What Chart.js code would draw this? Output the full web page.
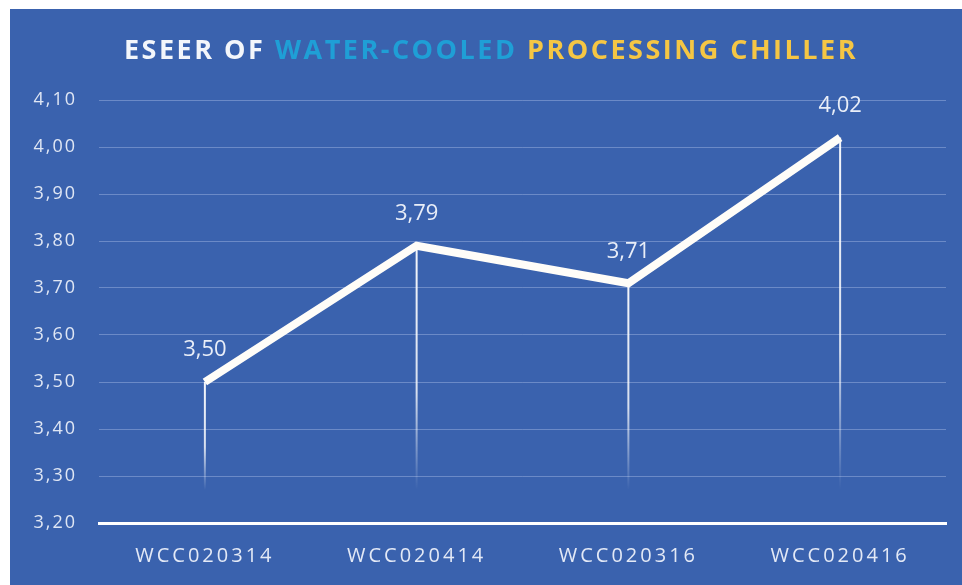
<!DOCTYPE html>
<html>
<head>
<meta charset="utf-8">
<script src="https://cdn.jsdelivr.net/npm/chart.js@4.4.1/dist/chart.umd.min.js"></script>
<style>
  body { margin: 0; background: #ffffff; }
  #panel { position: absolute; left: 10px; top: 9px; width: 952px; height: 576px; background: #3a62ae; }
</style>
</head>
<body>
<div id="panel"><canvas id="eseerChart" width="952" height="576"></canvas></div>
<script>
let models = ["WCC020314", "WCC020414", "WCC020316", "WCC020416"];
let eseerValues = [3.50, 3.79, 3.71, 4.02];
let titleParts = ["ESEER OF ", "WATER-COOLED ", "PROCESSING CHILLER"];
let titleColors = ["#f3f6fb", "#1f9fd6", "#f5c644"];

let fmt = v => v.toFixed(2).replace(".", ",");

// wider letter spacing on the axis labels
let spacing = { x: "3px", y: "2px" };
let spacingPlugin = {
    id: "tickSpacing",
    beforeDraw(chart) {
        Object.keys(spacing).forEach(id => {
            let s = chart.scales[id];
            if (!s || s._spaced) return;
            let orig = s.drawLabels.bind(s);
            s.drawLabels = function (area) {
                let ctx = chart.ctx;
                ctx.save();
                ctx.letterSpacing = spacing[id];
                orig(area);
                ctx.restore();
            };
            s._spaced = true;
        });
    }
};

// three-colour heading drawn straight on the canvas
let titlePlugin = {
    id: "titleParts",
    afterDraw(chart) {
        let ctx = chart.ctx;
        ctx.save();
        ctx.font = "bold 27px 'Open Sans'";
        ctx.letterSpacing = "2.5px";
        ctx.textBaseline = "middle";
        let widths = titleParts.map(t => ctx.measureText(t).width);
        let total = widths.reduce((a, b) => a + b, 0);
        let x = 481 - total / 2;
        titleParts.forEach((t, i) => {
            ctx.fillStyle = titleColors[i];
            ctx.fillText(t, x, 42);
            x += widths[i];
        });
        ctx.restore();
    }
};

// fading drop lines under each point plus value labels
let dropPlugin = {
    id: "dropLines",
    beforeDatasetsDraw(chart) {
        let ctx = chart.ctx;
        let yScale = chart.scales.y;
        let pts = chart.getDatasetMeta(0).data;
        let yEnd = yScale.getPixelForValue(3.27);
        ctx.save();
        pts.forEach(p => {
            let g = ctx.createLinearGradient(0, p.y, 0, yEnd);
            g.addColorStop(0, "rgba(255,255,255,0.95)");
            g.addColorStop(0.6, "rgba(255,255,255,0.8)");
            g.addColorStop(1, "rgba(255,255,255,0)");
            ctx.strokeStyle = g;
            ctx.lineWidth = 2;
            ctx.beginPath();
            ctx.moveTo(p.x, p.y);
            ctx.lineTo(p.x, yEnd);
            ctx.stroke();
        });
        ctx.restore();
    },
    afterDatasetsDraw(chart) {
        let ctx = chart.ctx;
        let pts = chart.getDatasetMeta(0).data;
        ctx.save();
        ctx.font = "22px 'Open Sans'";
        ctx.fillStyle = "#e9eef8";
        ctx.textAlign = "center";
        ctx.textBaseline = "middle";
        pts.forEach((p, i) => {
            ctx.fillText(fmt(eseerValues[i]), p.x, p.y - 32);
        });
        ctx.restore();
    }
};

new Chart("eseerChart", {
    type: "line",
    data: {
        labels: models,
        datasets: [{
            data: eseerValues,
            borderColor: "#fffdf8",
            borderWidth: 8,
            pointRadius: 0,
            borderJoinStyle: "miter",
            tension: 0,
            clip: false
        }]
    },
    options: {
        responsive: false,
        animation: false,
        devicePixelRatio: 1,
        layout: { padding: { top: 91, right: 16, left: 0, bottom: 0 } },
        plugins: {
            legend: { display: false },
            tooltip: { enabled: false }
        },
        scales: {
            x: {
                offset: true,
                grid: { display: false, drawTicks: false },
                border: { color: "#ffffff", width: 3 },
                ticks: { color: "#e3e9f6", font: { family: "Open Sans", size: 20 }, padding: 21 },
                afterFit: s => { s.height = 62; }
            },
            y: {
                min: 3.2,
                max: 4.1,
                ticks: {
                    stepSize: 0.1,
                    color: "#dfe6f4",
                    font: { family: "Open Sans", size: 18 },
                    padding: 22,
                    callback: v => fmt(v)
                },
                grid: { color: "rgba(200,215,245,0.35)", lineWidth: 1, drawTicks: false },
                border: { display: false },
                afterFit: s => { s.width = 89; }
            }
        }
    },
    plugins: [spacingPlugin, dropPlugin, titlePlugin]
});
</script>
</body>
</html>
